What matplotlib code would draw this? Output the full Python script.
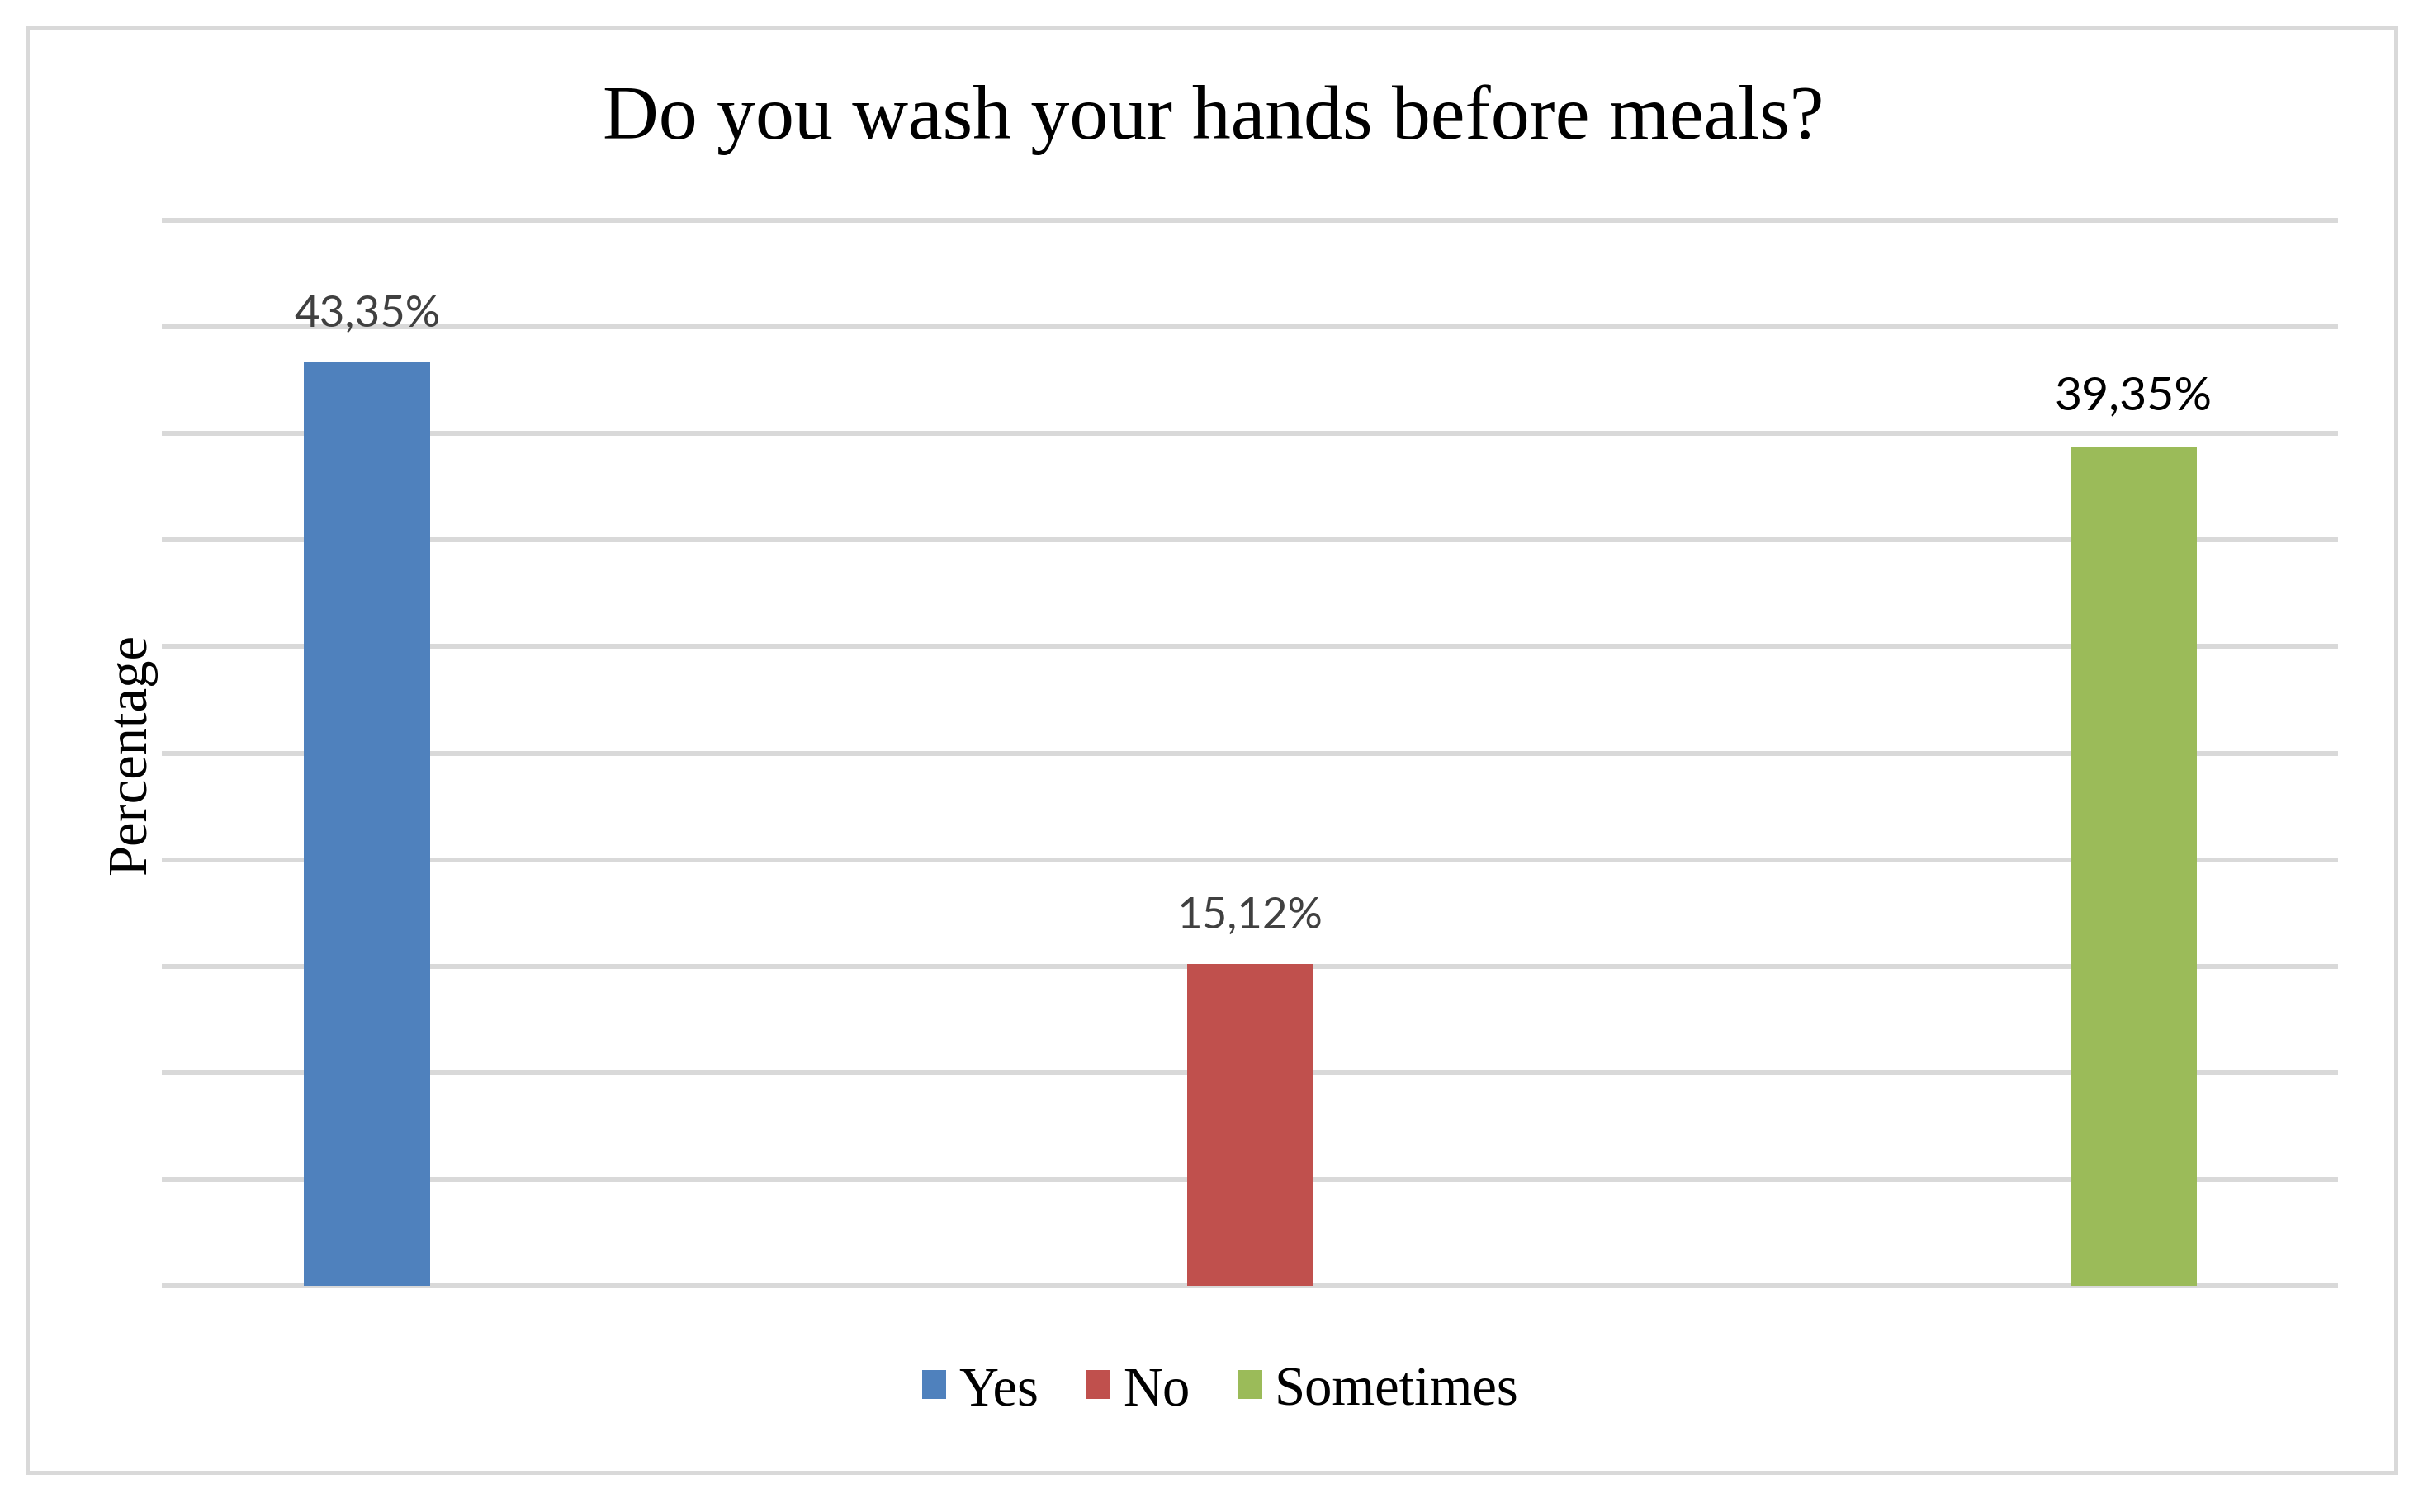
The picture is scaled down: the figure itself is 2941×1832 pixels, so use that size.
import matplotlib
matplotlib.use("Agg")
import matplotlib.pyplot as plt
from matplotlib.patches import Rectangle, Patch

# ---- data ----
categories = ["Yes", "No", "Sometimes"]
values = [43.35, 15.12, 39.35]
labels = ["43,35%", "15,12%", "39,35%"]
colors = ["#4F81BD", "#C0504D", "#9BBB59"]
grid_values = list(range(0, 55, 5))
title = "Do you wash your hands before meals?"
ylabel = "Percentage"

W, H = 2941, 1833
DPI = 100
fig = plt.figure(figsize=(W / DPI, H / DPI), dpi=DPI)
fig.patch.set_facecolor("white")

# outer border
fig.patches.append(Rectangle((33 / W, (H - 1785) / H), (2902 - 33) / W, (1785 - 34) / H,
                             transform=fig.transFigure, fill=False,
                             edgecolor="#d9d9d9", linewidth=3.6, zorder=0))

ax = fig.add_axes([199 / W, (H - 1559) / H, (2829 - 199) / W, (1559 - 268) / H])
ax.set_xlim(-0.2294, 2.2285)
ax.set_ylim(0, 50)
for s in ax.spines.values():
    s.set_visible(False)
ax.set_xticks([])
ax.set_yticks([])

for g in grid_values:
    ax.axhline(g, color="#d9d9d9", linewidth=4.3, zorder=1, clip_on=False)

x = list(range(len(categories)))
bars = ax.bar(x, values, width=0.143, color=colors, zorder=2)

label_colors = ["#404040", "#404040", "#000000"]
label_sizes = [38, 38, 41]
label_offsets = [31.5, 31.5, 33.5]
for xi, v, lab, c, fs, off in zip(x, values, labels, label_colors, label_sizes, label_offsets):
    ax.annotate(lab, (xi, v), xytext=(0, off), textcoords="offset points",
                ha="center", va="baseline", fontsize=fs, color=c,
                family=["Lato", "DejaVu Sans"])

fig.text(1470 / W, (H - 168) / H, title, ha="center", va="baseline",
         fontsize=67.5, family="Liberation Serif", color="black")
fig.text(160 / W, (H - 914) / H, ylabel, rotation=90,
         ha="center", va="center", fontsize=48, family="Liberation Serif", color="black")

handles = [Patch(facecolor=c, edgecolor="none") for c in colors]
leg = fig.legend(handles, categories, loc="center", bbox_to_anchor=(1478 / W, (H - 1686) / H),
                 ncol=3, frameon=False, handlelength=0.44, handleheight=0.44,
                 handletextpad=0.22, columnspacing=0.87,
                 prop={"family": "Liberation Serif", "size": 48})

fig.savefig("out.png", dpi=DPI, facecolor="white")
